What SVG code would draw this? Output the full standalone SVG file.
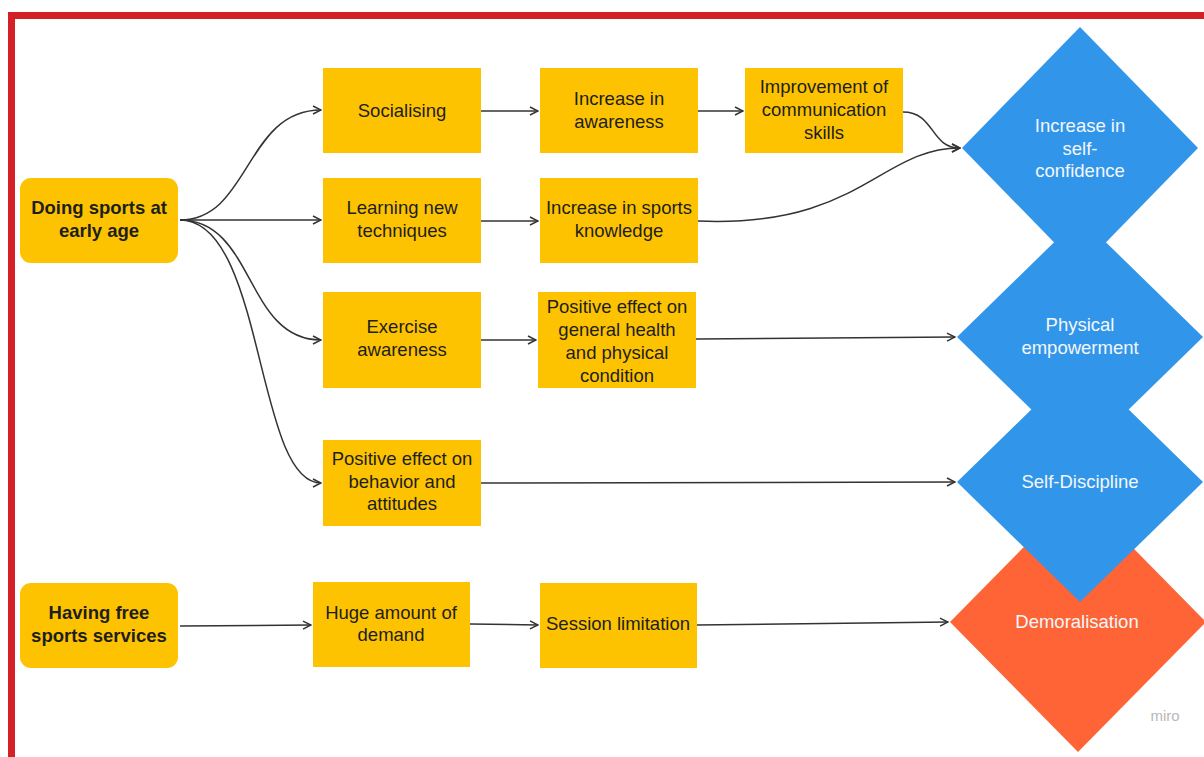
<svg xmlns="http://www.w3.org/2000/svg" width="1204" height="757" viewBox="0 0 1204 757">
<style>
.box{fill:#FDC300}
.t{font-family:"Liberation Sans",Arial,sans-serif;font-size:18.5px;fill:#1e1e1e;text-anchor:middle}
.b{font-weight:bold}
.w{fill:#f4f7fb}
.c{fill:none;stroke:#333;stroke-width:1.5;marker-end:url(#ah)}
.blue{fill:#3196EA}
.orange{fill:#FE6436}
</style>
<defs>
<marker id="ah" viewBox="0 0 10 10" refX="9" refY="5" markerWidth="10" markerHeight="10" markerUnits="userSpaceOnUse" orient="auto">
<path d="M1,1 L9,5 L1,9" fill="none" stroke="#333" stroke-width="1.5"/>
</marker>
</defs>
<rect width="1204" height="757" fill="#fff"/>
<rect x="8" y="12" width="1196" height="7" fill="#D42027"/>
<rect x="8" y="12" width="7" height="745" fill="#D42027"/>

<g id="demoralisation">
<polygon class="orange" points="1078,492 1206,622 1078,752 950,622"/>
<text class="t w" x="1077" y="628">Demoralisation</text>
</g>
<g id="self-confidence">
<polygon class="blue" points="1080,27 1198,148 1080,269 962,148"/>
<text class="t w" x="1080" y="132">Increase in</text>
<text class="t w" x="1080" y="155">self-</text>
<text class="t w" x="1080" y="177">confidence</text>
</g>
<g id="physical-empowerment">
<polygon class="blue" points="1080,217 1203,337 1080,457 957,337"/>
<text class="t w" x="1080" y="331">Physical</text>
<text class="t w" x="1080" y="354">empowerment</text>
</g>
<g id="self-discipline">
<polygon class="blue" points="1080,362 1203,482 1080,602 957,482"/>
<text class="t w" x="1080" y="488">Self-Discipline</text>
</g>

<g id="doing-sports">
<rect class="box" x="20" y="178" width="158" height="85" rx="11"/>
<text class="t b" x="99" y="214">Doing sports at</text>
<text class="t b" x="99" y="237">early age</text>
</g>
<g id="having-free">
<rect class="box" x="20" y="583" width="158" height="85" rx="11"/>
<text class="t b" x="99" y="619">Having free</text>
<text class="t b" x="99" y="642">sports services</text>
</g>
<g id="socialising">
<rect class="box" x="323" y="68" width="158" height="85"/>
<text class="t" x="402" y="117">Socialising</text>
</g>
<g id="increase-awareness">
<rect class="box" x="540" y="68" width="158" height="85"/>
<text class="t" x="619" y="105">Increase in</text>
<text class="t" x="619" y="128">awareness</text>
</g>
<g id="improvement-communication">
<rect class="box" x="745" y="68" width="158" height="85"/>
<text class="t" x="824" y="93">Improvement of</text>
<text class="t" x="824" y="116">communication</text>
<text class="t" x="824" y="139">skills</text>
</g>
<g id="learning">
<rect class="box" x="323" y="178" width="158" height="85"/>
<text class="t" x="402" y="214">Learning new</text>
<text class="t" x="402" y="237">techniques</text>
</g>
<g id="sports-knowledge">
<rect class="box" x="540" y="178" width="158" height="85"/>
<text class="t" x="619" y="214">Increase in sports</text>
<text class="t" x="619" y="237">knowledge</text>
</g>
<g id="exercise-awareness">
<rect class="box" x="323" y="292" width="158" height="96"/>
<text class="t" x="402" y="333">Exercise</text>
<text class="t" x="402" y="356">awareness</text>
</g>
<g id="general-health">
<rect class="box" x="538" y="292" width="158" height="96"/>
<text class="t" x="617" y="313">Positive effect on</text>
<text class="t" x="617" y="336">general health</text>
<text class="t" x="617" y="359">and physical</text>
<text class="t" x="617" y="382">condition</text>
</g>
<g id="behavior">
<rect class="box" x="323" y="440" width="158" height="86"/>
<text class="t" x="402" y="465">Positive effect on</text>
<text class="t" x="402" y="488">behavior and</text>
<text class="t" x="402" y="510">attitudes</text>
</g>
<g id="huge-demand">
<rect class="box" x="313" y="582" width="157" height="85"/>
<text class="t" x="391" y="619">Huge amount of</text>
<text class="t" x="391" y="641">demand</text>
</g>
<g id="session-limitation">
<rect class="box" x="540" y="583" width="157" height="85"/>
<text class="t" x="618" y="630">Session limitation</text>
</g>

<g id="connectors">
<path class="c" d="M180,220 C250,220 245,110 321,110"/>
<path class="c" d="M180,220 L321,220"/>
<path class="c" d="M180,220 C255,220 245,340 321,340"/>
<path class="c" d="M180,220 C265,220 255,483 321,483"/>
<path class="c" d="M481,111 L538,111"/>
<path class="c" d="M698,111 L743,111"/>
<path class="c" d="M903,112 C935,112 930,148 960,148"/>
<path class="c" d="M481,221 L538,221"/>
<path class="c" d="M698,221 C860,228 880,148 960,148"/>
<path class="c" d="M481,340 L536,340"/>
<path class="c" d="M696,339 L955,337"/>
<path class="c" d="M481,483 L955,482"/>
<path class="c" d="M180,626 L311,625"/>
<path class="c" d="M470,624 L538,625"/>
<path class="c" d="M697,625 L948,622"/>
</g>
<text x="1165" y="721" font-family="'Liberation Sans',Arial,sans-serif" font-size="15" fill="#b8b8b8" text-anchor="middle">miro</text>
</svg>
